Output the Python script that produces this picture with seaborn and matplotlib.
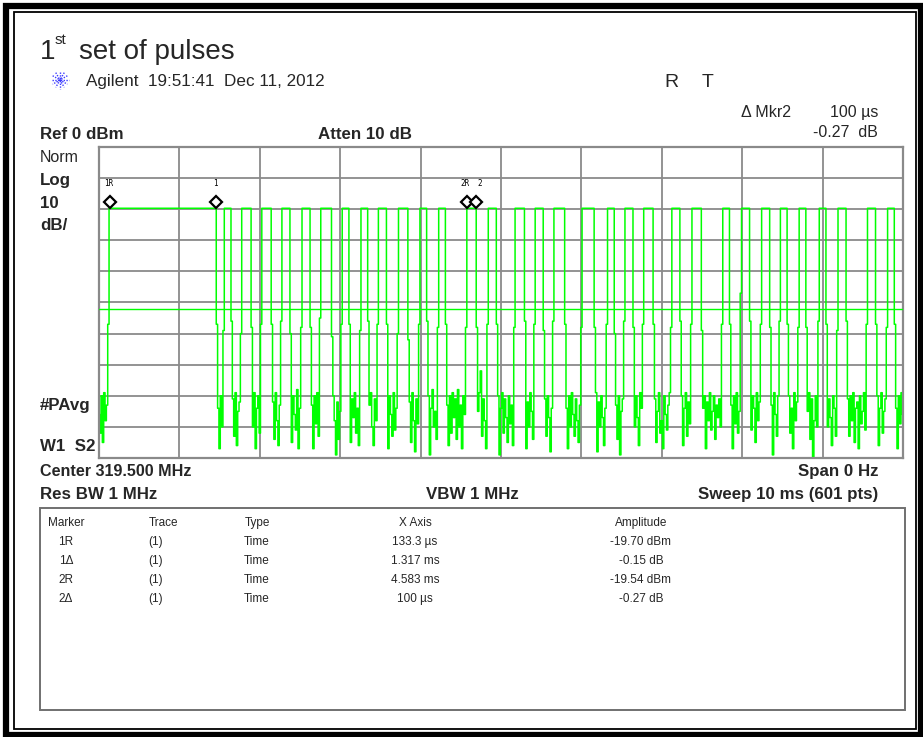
import numpy as np
import matplotlib
matplotlib.use("Agg")
import matplotlib.pyplot as plt
import seaborn as sns
from matplotlib.patches import Rectangle
from matplotlib.lines import Line2D

sns.set_style("white")
plt.rcParams["font.family"] = ["Liberation Sans", "DejaVu Sans"]

# sweep settings
sweep_ms = 10
n_points = 601
ref_level = 0
db_per_div = 10
display_line = -52.2
high_level = -19.7

# gaps in the pulse train: first sample index and the sampled levels (dBm)
gap_start = [0, 88, 99, 114, 129, 143, 158, 174, 187, 201, 215, 231, 245, 259, 282, 297,
             318, 332, 348, 370, 385, 399, 414, 434, 450, 471, 486, 501, 514, 528, 543,
             558, 580, 594]
gap_levels = [
    [-86, -92, -80, -95, -79, -88, -83, -57],
    [-57, -84, -97, -80, -90, -59],
    [-56, -81, -93, -79, -96, -85, -82, -60],
    [-58, -90, -79, -97, -84, -80, -92, -57],
    [-57, -82, -94, -79, -88, -96, -83, -56],
    [-60, -95, -80, -86, -91, -78, -97, -84, -58],
    [-58, -83, -97, -80, -89, -79, -93, -55],
    [-61, -80, -88, -99, -82, -94, -85, -57],
    [-57, -95, -81, -87, -79, -92, -84, -96, -59],
    [-56, -83, -79, -90, -96, -81, -88, -57],
    [-57, -97, -80, -86, -93, -79, -91, -84, -60],
    [-62, -82, -95, -79, -88, -98, -81, -89, -57],
    [-56, -80, -99, -84, -78, -90, -85, -94, -58],
    [-57, -83, -96, -80, -92, -79, -87, -81, -94, -78, -90, -83, -97, -80, -86, -58],
    [-58, -85, -79, -72, -93, -81, -88, -97, -57],
    [-57, -80, -99, -84, -79, -92, -81, -87, -95, -80, -89, -83, -96, -58],
    [-56, -97, -82, -90, -79, -85, -94, -57],
    [-59, -81, -93, -80, -87, -98, -84, -56],
    [-57, -84, -97, -80, -90, -79, -86, -93, -81, -88, -95, -83, -58],
    [-58, -79, -98, -82, -90, -80, -87, -96, -84, -57],
    [-60, -83, -94, -80, -99, -85, -81, -56],
    [-58, -90, -80, -87, -96, -79, -84, -57],
    [-57, -81, -95, -85, -79, -92, -88, -97, -80, -86, -91, -83, -79, -58],
    [-56, -80, -96, -84, -79, -93, -82, -89, -57],
    [-59, -84, -80, -97, -82, -88, -79, -91, -85, -80, -94, -83, -87, -81, -90, -57],
    [-57, -83, -97, -80, -89, -79, -92, -85, -47],
    [-56, -91, -80, -84, -95, -79, -88, -82, -57],
    [-58, -83, -99, -79, -86, -93, -80, -56],
    [-57, -80, -92, -84, -97, -79, -88, -82, -58],
    [-58, -85, -79, -94, -81, -100, -88, -80, -90, -56],
    [-57, -90, -81, -87, -96, -80, -84, -93, -59],
    [-56, -81, -93, -80, -88, -79, -95, -84, -82, -97, -80, -89, -85, -79, -91, -57],
    [-57, -80, -96, -84, -79, -92, -85, -81, -58],
    [-57, -84, -97, -80, -89, -79, -86],
]

# markers
marker_names = ["1R", "1", "2R", "2"]
marker_times = [0.1333, 1.450, 4.583, 4.683]

# marker table
table_header = ["Marker", "Trace", "Type", "X Axis", "Amplitude"]
table_rows = [
    ["1R", "(1)", "Time", "133.3 \u00b5s", "-19.70 dBm"],
    ["1\u0394", "(1)", "Time", "1.317 ms", "-0.15 dB"],
    ["2R", "(1)", "Time", "4.583 ms", "-19.54 dBm"],
    ["2\u0394", "(1)", "Time", "100 \u00b5s", "-0.27 dB"],
]

# build trace
trace = np.full(n_points, high_level, dtype=float)
for s, lv in zip(gap_start, gap_levels):
    trace[s:s + len(lv)] = lv
t = np.linspace(0, sweep_ms, n_points)

W, H = 923, 737
fig = plt.figure(figsize=(W / 100, H / 100), dpi=100)
fig.patch.set_facecolor("white")


def fx(x):
    return x / W


def fy(y):
    return 1 - y / H


def txt(x, y, s, size=10, weight="normal", ha="left", va="baseline", family=None, **kw):
    fig.text(fx(x), fy(y), s, fontsize=size, fontweight=weight, ha=ha, va=va,
             family=family or ["Liberation Sans", "DejaVu Sans"], **kw)


# outer frame (double line)
fig.add_artist(Rectangle((fx(6), fy(735)), (921 - 6) / W, (735 - 5.5) / H,
                         transform=fig.transFigure, fill=False, lw=4.5, ec="black"))
fig.add_artist(Rectangle((fx(13.5), fy(728.5)), (916 - 13.5) / W, (728.5 - 11.5) / H,
                         transform=fig.transFigure, fill=False, lw=1.3, ec="black"))

# trace axes
x0, x1, y0, y1 = 99, 903, 147, 458
ax = fig.add_axes([fx(x0), fy(y1), (x1 - x0) / W, (y1 - y0) / H])
sns.lineplot(x=t, y=trace, ax=ax, color="#00ff00", linewidth=1.1, estimator=None,
             sort=False, drawstyle="steps-mid")
ax.axhline(display_line, color="#00ff00", lw=1.0, zorder=3)
ax.set_xlim(0, sweep_ms)
ax.set_ylim(ref_level - 10 * db_per_div, ref_level)
ax.set_xticks(np.arange(0, sweep_ms + 1, 1))
ax.set_yticks(np.arange(-100, 1, db_per_div))
ax.grid(True, color="#8a8a8a", lw=1.3)
ax.set_axisbelow(True)
ax.tick_params(left=False, bottom=False, labelleft=False, labelbottom=False)
ax.set_xlabel("")
ax.set_ylabel("")
for sp in ax.spines.values():
    sp.set_color("#8a8a8a")
    sp.set_linewidth(1.6)

for name, tm in zip(marker_names, marker_times):
    ax.plot([tm], [-17.6], marker="D", ms=6.5, mfc="white", mec="black", mew=1.6,
            zorder=5, clip_on=False)
label_dx = {"1R": -0.07, "1": -0.03, "2R": -0.09, "2": 0.02}
for name, tm in zip(marker_names, marker_times):
    ax.text(tm + label_dx[name], -11.8, name, fontsize=5.5, family="DejaVu Sans Mono",
            ha="left", va="center", color="black")

# title and header texts
txt(40, 59, "1", size=20)
txt(55, 44, "st", size=11)
txt(79, 59, "set of pulses", size=20)

# Agilent spark logo
cx, cy, r = 60, 80, 8.5
for ang in np.deg2rad(np.arange(0, 180, 30)):
    dx, dy = r * np.cos(ang), r * np.sin(ang)
    fig.add_artist(Line2D([fx(cx - dx), fx(cx + dx)], [fy(cy - dy), fy(cy + dy)],
                          transform=fig.transFigure, color="#3a3aff", lw=1.0, ls=(0, (1, 1))))
txt(86, 86, "Agilent  19:51:41  Dec 11, 2012", size=12.3)
txt(664, 87, "R", size=14)
txt(702, 87, "T", size=14)
txt(741, 117, "\u0394 Mkr2", size=11.5)
txt(878, 117, "100 \u00b5s", size=11.5, ha="right")
txt(878, 137, "-0.27  dB", size=11.5, ha="right")

bsz = 12.2
txt(40, 139, "Ref 0 dBm", size=bsz, weight="bold")
txt(318, 139, "Atten 10 dB", size=bsz, weight="bold")

txt(40, 162, "Norm", size=11.5)
txt(40, 185, "Log", size=bsz, weight="bold")
txt(40, 208, "10", size=bsz, weight="bold")
txt(40, 230, "dB/", size=bsz, weight="bold")
txt(40, 410, "#PAvg", size=bsz, weight="bold")
txt(40, 451, "W1  S2", size=bsz, weight="bold")

txt(40, 476, "Center 319.500 MHz", size=11.6, weight="bold")
txt(878, 476, "Span 0 Hz", size=bsz, weight="bold", ha="right")
txt(40, 499, "Res BW 1 MHz", size=bsz, weight="bold")
txt(472, 499, "VBW 1 MHz", size=bsz, weight="bold", ha="center")
txt(878, 499, "Sweep 10 ms (601 pts)", size=bsz, weight="bold", ha="right")

# marker table box
fig.add_artist(Rectangle((fx(40), fy(710)), (905 - 40) / W, (710 - 508) / H,
                         transform=fig.transFigure, fill=False, lw=1.4, ec="#707070"))
col_x = [66, 164, 257, 415, 641]
for cx_, h in zip(col_x, table_header):
    txt(cx_, 526, h, size=8.5, ha="center")
row_y = [545, 564, 583, 602]
for ry, row in zip(row_y, table_rows):
    for cx_, cell in zip(col_x, row):
        txt(cx_ - (8 if cell == "(1)" else 0), ry, cell, size=8.5, ha="center")

fig.savefig("out.png", dpi=100)
